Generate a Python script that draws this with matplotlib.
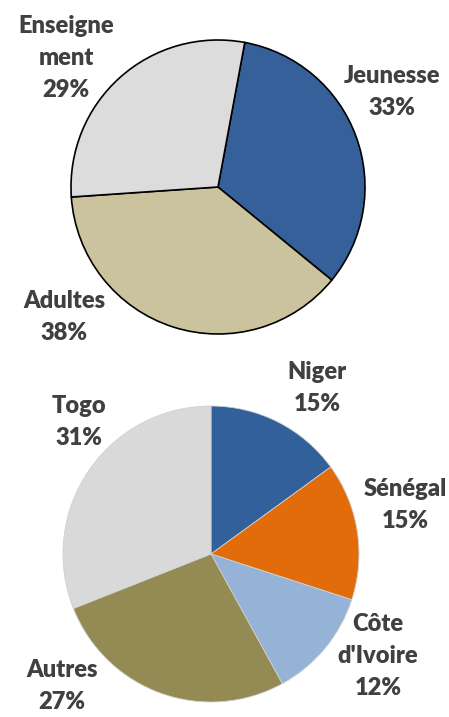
import matplotlib
matplotlib.use("Agg")
from matplotlib import pyplot as plt

# top pie: public
public_labels = ["Jeunesse", "Adultes", "Enseigne\nment"]
public_values = [33, 38, 29]
public_colors = ["#35609a", "#cbc39e", "#dcdcdc"]

# bottom pie: countries
country_labels = ["Niger", "Sénégal", "Côte\nd'Ivoire", "Autres", "Togo"]
country_values = [15, 15, 12, 27, 31]
country_colors = ["#31609a", "#e36c0a", "#95b3d7", "#948a54", "#d9d9d9"]

W, H = 449, 717
fig = plt.figure(figsize=(W / 100, H / 100), dpi=100)
ax = fig.add_axes([0, 0, 1, 1])

ax.pie(public_values, colors=public_colors, center=(218, H - 187), radius=147,
       startangle=79.5, counterclock=False,
       wedgeprops=dict(edgecolor="black", linewidth=1.2))

ax.pie(country_values, colors=country_colors, center=(211, H - 554), radius=148,
       startangle=90, counterclock=False,
       wedgeprops=dict(edgecolor="#d0d0d0", linewidth=0.6))

# pie() resets the limits, so set them afterwards
ax.set_xlim(0, W)
ax.set_ylim(0, H)
ax.set_aspect("equal")
ax.axis("off")

txt = dict(fontsize=17, fontweight="heavy", color="#404040", family=["Lato", "DejaVu Sans"],
           ha="center", va="center", linespacing=1.55)

# label positions in pixels from the top
top_pos = [(392, 92), (64, 317), (66, 58)]
for lab, val, (x, y) in zip(public_labels, public_values, top_pos):
    ax.text(x, H - y, f"{lab}\n{val}%", **txt)

bottom_pos = [(317, 388), (405, 505), (378, 656), (62, 686), (79, 422)]
for lab, val, (x, y) in zip(country_labels, country_values, bottom_pos):
    ax.text(x, H - y, f"{lab}\n{val}%", **txt)

fig.savefig("out.png", dpi=100)
